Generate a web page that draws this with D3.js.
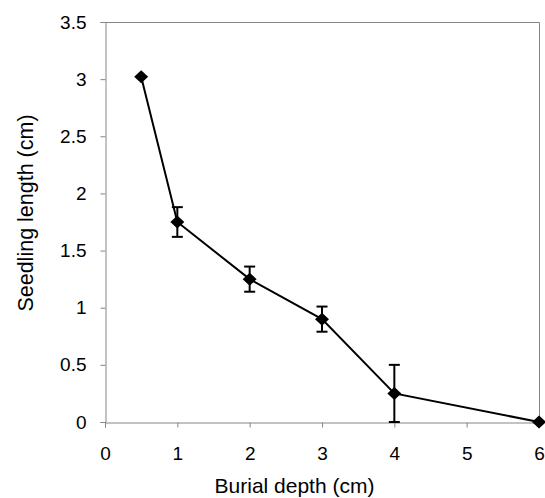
<!DOCTYPE html>
<html>
<head>
<meta charset="utf-8">
<script src="https://cdn.jsdelivr.net/npm/d3@7"></script>
<style>
  html, body { margin: 0; padding: 0; background: #fff; }
  svg { display: block; font-family: "Liberation Sans", Arial, sans-serif; }
</style>
</head>
<body>
<svg id="chart" width="545" height="498"></svg>
<script>
// Data
const burialDepth = [0.5, 1, 2, 3, 4, 6];
const seedlingLength = [3.02, 1.75, 1.25, 0.90, 0.25, 0.0];
const errorValues = [0, 0.13, 0.11, 0.11, 0.25, 0];
const xTicks = [0, 1, 2, 3, 4, 5, 6];
const yTicks = [0, 0.5, 1, 1.5, 2, 2.5, 3, 3.5];
const xTitle = "Burial depth (cm)";
const yTitle = "Seedling length (cm)";

(function () {
const svg = d3.select("#chart");
const mLeft = 105, mRight = 539, mTop = 22, mBottom = 422;
const axisColor = "#868686";

const x = d3.scaleLinear().domain([0, 6]).range([mLeft, mRight]);
const y = d3.scaleLinear().domain([0, 3.5]).range([mBottom, mTop]);

// Frame (top and right)
svg.append("path")
  .attr("d", `M${mLeft},${mTop + 0.5}H${mRight + 0.5}V${mBottom}`)
  .attr("fill", "none").attr("stroke", axisColor).attr("stroke-width", 1);

// X axis
const xAxis = svg.append("g")
  .attr("transform", `translate(0,${mBottom + 0.5})`)
  .call(d3.axisBottom(x).tickValues(xTicks).tickFormat(d3.format("d")).tickSizeOuter(0).tickSize(5).tickPadding(19));
xAxis.select(".domain").attr("stroke", axisColor);
xAxis.selectAll(".tick line").attr("stroke", axisColor);
xAxis.selectAll("text").attr("fill", "#000").attr("font-size", "19px")
  .attr("font-family", "Liberation Sans, Arial, sans-serif");

// Y axis
const yAxis = svg.append("g")
  .attr("transform", `translate(${mLeft + 0.5},0)`)
  .call(d3.axisLeft(y).tickValues(yTicks).tickFormat(d => d3.format("")(d)).tickSizeOuter(0).tickSize(5).tickPadding(14));
yAxis.select(".domain").attr("stroke", axisColor);
yAxis.selectAll(".tick line").attr("stroke", axisColor);
yAxis.selectAll("text").attr("fill", "#000").attr("font-size", "19px")
  .attr("font-family", "Liberation Sans, Arial, sans-serif");

const data = burialDepth.map((d, i) => ({ x: d, y: seedlingLength[i], e: errorValues[i] }));

// Error bars
const eb = svg.append("g").attr("stroke", "#000").attr("stroke-width", 2).attr("fill", "none");
data.filter(d => d.e > 0).forEach(d => {
  const cx = x(d.x);
  const y1 = y(d.y + d.e), y0 = y(Math.max(0, d.y - d.e));
  eb.append("line").attr("x1", cx).attr("x2", cx).attr("y1", y1).attr("y2", y0);
  eb.append("line").attr("x1", cx - 5.5).attr("x2", cx + 5.5).attr("y1", y1).attr("y2", y1);
  eb.append("line").attr("x1", cx - 5.5).attr("x2", cx + 5.5).attr("y1", y0).attr("y2", y0);
});

// Line
svg.append("path")
  .datum(data)
  .attr("fill", "none").attr("stroke", "#000").attr("stroke-width", 2)
  .attr("d", d3.line().x(d => x(d.x)).y(d => y(d.y)));

// Markers (diamonds)
svg.append("g").selectAll("path")
  .data(data).join("path")
  .attr("transform", d => `translate(${x(d.x)},${y(d.y)})`)
  .attr("d", "M0,-6.5L7,0L0,6.5L-7,0Z")
  .attr("fill", "#000");

// Axis titles
svg.append("text")
  .attr("x", 294.5).attr("y", 492.5)
  .attr("text-anchor", "middle")
  .attr("font-size", "21px").attr("fill", "#000")
  .text(xTitle);

svg.append("text")
  .attr("transform", "translate(33,213) rotate(-90)")
  .attr("text-anchor", "middle")
  .attr("font-size", "21.5px").attr("fill", "#000")
  .text(yTitle);
})();
</script>
</body>
</html>
